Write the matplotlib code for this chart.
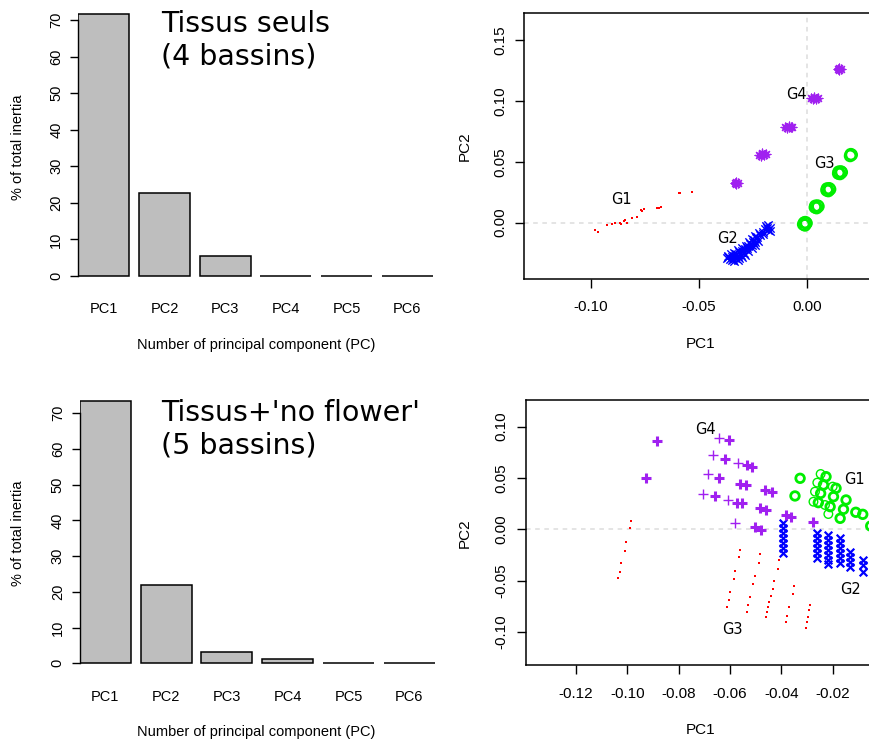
import matplotlib.pyplot as plt

W, H, DPI = 870, 741, 100

# ---- bar charts: % of total inertia per principal component
pc_labels = ["PC1", "PC2", "PC3", "PC4", "PC5", "PC6"]
inertia_tissus = [71.6, 22.6, 5.5, 0.12, 0.08, 0.05]
inertia_noflower = [73.5, 21.8, 3.3, 1.1, 0.15, 0.1]

# ---- PCA scores, "Tissus seuls (4 bassins)"
top_g1_x = [-0.0980, -0.0965, -0.0926, -0.0903, -0.0887, -0.0864, -0.0846, -0.0833,
            -0.0810, -0.0787, -0.0769, -0.0753, -0.0694, -0.0676, -0.0590, -0.0530,
            -0.0858, -0.0840, -0.0760, -0.0685, -0.0585]
top_g1_y = [-0.0060, -0.0080, -0.0020, -0.0010, -0.0005, 0.0000, 0.0010, 0.0000,
            0.0036, 0.0044, 0.0104, 0.0112, 0.0118, 0.0126, 0.0246, 0.0255,
            -0.0010, 0.0020, 0.0095, 0.0122, 0.0240]
top_g2_x = [-0.0370, -0.0362, -0.0355, -0.0348, -0.0340, -0.0336, -0.0330, -0.0325,
            -0.0320, -0.0312, -0.0305, -0.0298, -0.0292, -0.0285, -0.0278, -0.0270,
            -0.0262, -0.0255, -0.0250, -0.0245, -0.0240, -0.0235, -0.0228, -0.0215,
            -0.0200, -0.0192, -0.0185, -0.0178, -0.0190, -0.0170, -0.0345, -0.0315,
            -0.0365, -0.0350, -0.0335, -0.0318, -0.0300, -0.0282, -0.0268, -0.0252,
            -0.0238, -0.0222, -0.0335, -0.0318, -0.0300, -0.0285, -0.0270, -0.0255,
            -0.0240, -0.0225, -0.0180, -0.0200, -0.0170]
top_g2_y = [-0.0290, -0.0280, -0.0300, -0.0285, -0.0298, -0.0270, -0.0288, -0.0255,
            -0.0275, -0.0242, -0.0262, -0.0230, -0.0248, -0.0220, -0.0205, -0.0190,
            -0.0172, -0.0185, -0.0155, -0.0140, -0.0160, -0.0128, -0.0115, -0.0098,
            -0.0075, -0.0055, -0.0040, -0.0060, -0.0030, -0.0045, -0.0310, -0.0290,
            -0.0270, -0.0258, -0.0250, -0.0225, -0.0205, -0.0190, -0.0155, -0.0130,
            -0.0110, -0.0085, -0.0318, -0.0305, -0.0280, -0.0262, -0.0235, -0.0205,
            -0.0180, -0.0150, -0.0020, -0.0095, -0.0070]
top_g3_x = [-0.0016, -0.0001, -0.0008, -0.0006, -0.0012,
            0.0038, 0.0054, 0.0046, 0.0050, 0.0040,
            0.0092, 0.0108, 0.0100, 0.0104, 0.0094,
            0.0146, 0.0162, 0.0154, 0.0158, 0.0148,
            0.0201, 0.0208, 0.0204]
top_g3_y = [-0.0014, -0.0004, -0.0022, 0.0004, 0.0000,
            0.0126, 0.0134, 0.0120, 0.0140, 0.0138,
            0.0266, 0.0274, 0.0260, 0.0282, 0.0280,
            0.0404, 0.0414, 0.0400, 0.0420, 0.0418,
            0.0548, 0.0557, 0.0562]
top_g4_x = [-0.0334, -0.0320, -0.0327, -0.0328,
            -0.0222, -0.0205, -0.0188, -0.0212, -0.0198, -0.0205,
            -0.0099, -0.0082, -0.0066, -0.0090, -0.0074, -0.0082,
            0.0018, 0.0035, 0.0052, 0.0027, 0.0044, 0.0035,
            0.0143, 0.0159, 0.0151, 0.0151]
top_g4_y = [0.0323, 0.0326, 0.0316, 0.0330,
            0.0558, 0.0568, 0.0560, 0.0550, 0.0553, 0.0561,
            0.0786, 0.0795, 0.0788, 0.0779, 0.0782, 0.0788,
            0.1022, 0.1033, 0.1025, 0.1016, 0.1018, 0.1026,
            0.1262, 0.1264, 0.1256, 0.1268]

# ---- PCA scores, "Tissus+'no flower' (5 bassins)"
bot_g1_thin_x = [-0.0247, -0.0260, -0.0269, -0.0275, -0.0230, -0.0217, -0.0200]
bot_g1_thin_y = [0.0539, 0.0455, 0.0367, 0.0269, 0.0237, 0.0149, 0.0416]
bot_g1_bold_x = [-0.0327, -0.0347, -0.0226, -0.0236, -0.0247, -0.0256, -0.0210, -0.0187,
                 -0.0197, -0.0171, -0.0158, -0.0148, -0.0110, -0.0083, -0.0052]
bot_g1_bold_y = [0.0497, 0.0325, 0.0513, 0.0432, 0.0350, 0.0260, 0.0221, 0.0400,
                 0.0318, 0.0107, 0.0195, 0.0286, 0.0166, 0.0146, 0.0032]
bot_g2_x = [-0.0392] * 7 + [-0.0262] * 6 + [-0.0217] * 7 + [-0.0171] * 6 + [-0.0132] * 4 + [-0.0083] * 3
bot_g2_y = [0.0058, 0.0010, -0.0039, -0.0088, -0.0136, -0.0185, -0.0227,
            -0.0032, -0.0088, -0.0136, -0.0185, -0.0234, -0.0282,
            -0.0055, -0.0104, -0.0153, -0.0201, -0.0250, -0.0299, -0.0338,
            -0.0088, -0.0136, -0.0185, -0.0234, -0.0282, -0.0331,
            -0.0218, -0.0266, -0.0315, -0.0364,
            -0.0299, -0.0347, -0.0412]
bot_g3_x = [-0.0987, -0.0990, -0.1005, -0.1008, -0.1023, -0.1029, -0.1038,
            -0.0561, -0.0566, -0.0581, -0.0584, -0.0600, -0.0603, -0.0613,
            -0.0483, -0.0488, -0.0504, -0.0509, -0.0522, -0.0529, -0.0535,
            -0.0408, -0.0412, -0.0429, -0.0434, -0.0442, -0.0447, -0.0451, -0.0455, -0.0460,
            -0.0351, -0.0356, -0.0370, -0.0377, -0.0383,
            -0.0288, -0.0292, -0.0297, -0.0301, -0.0304]
bot_g3_y = [0.0081, 0.0010, -0.0127, -0.0211, -0.0325, -0.0412, -0.0477,
            -0.0201, -0.0266, -0.0403, -0.0487, -0.0607, -0.0688, -0.0760,
            -0.0244, -0.0331, -0.0451, -0.0532, -0.0656, -0.0737, -0.0808,
            -0.0299, -0.0386, -0.0503, -0.0584, -0.0649, -0.0705, -0.0753, -0.0802, -0.0851,
            -0.0552, -0.0630, -0.0753, -0.0844, -0.0906,
            -0.0737, -0.0786, -0.0851, -0.0899, -0.0958]
bot_g4_thin_x = [-0.0644, -0.0665, -0.0684, -0.0570, -0.0706, -0.0607, -0.0579]
bot_g4_thin_y = [0.0893, 0.0724, 0.0539, 0.0643, 0.0344, 0.0286, 0.0058]
bot_g4_bold_x = [-0.0886, -0.0929, -0.0603, -0.0620, -0.0642, -0.0535, -0.0516, -0.0658,
                 -0.0574, -0.0555, -0.0561, -0.0538, -0.0503, -0.0479, -0.0483, -0.0460,
                 -0.0464, -0.0438, -0.0383, -0.0364, -0.0275]
bot_g4_bold_y = [0.0860, 0.0497, 0.0870, 0.0685, 0.0500, 0.0627, 0.0610, 0.0325,
                 0.0260, 0.0253, 0.0438, 0.0432, 0.0019, -0.0006, 0.0205, 0.0188,
                 0.0383, 0.0367, 0.0140, 0.0123, 0.0068]

RED, BLUE, GREEN, PURPLE = "#ff0000", "#0000ff", "#00ee00", "#a020f0"
TICK_FONT = "Liberation Sans"
TEXT_FONT = "DejaVu Sans"


def px_axes(fig, left, right, top, bottom):
    """Adds an axes given its box in image pixels."""
    return fig.add_axes([left / W, 1 - bottom / H, (right - left) / W, (bottom - top) / H])


def fig_text(fig, x, y, s, **kw):
    fig.text(x / W, 1 - y / H, s, **kw)


def bar_panel(fig, values, x_first, step, y_zero, y_70, top_px, title, title_y, label_y, ylabel_y):
    left = x_first - 0.42 * step
    right = 440
    ax = px_axes(fig, left, right, top_px, y_zero + 4)
    scale = (y_zero - y_70) / 70
    ax.set_xlim(-0.42, (right - x_first) / step)
    ax.set_ylim(-4 / scale, (y_zero - top_px) / scale)
    ax.bar(range(len(values)), values, width=0.84, color="#bebebe", edgecolor="black", linewidth=1.1)

    for side in ["top", "right", "bottom"]:
        ax.spines[side].set_visible(False)
    ax.spines["left"].set_bounds(0, 70)
    ax.spines["left"].set_linewidth(1.0)
    ax.set_yticks(range(0, 71, 10))
    ax.set_yticklabels([str(v) for v in range(0, 71, 10)], rotation=90, va="center",
                       family=TICK_FONT, fontsize=10.5)
    ax.tick_params(axis="y", length=5.8, width=1.0, pad=5)
    ax.set_xticks(range(len(pc_labels)))
    ax.set_xticklabels(pc_labels, family=TICK_FONT, fontsize=10.5)
    ax.tick_params(axis="x", length=0, pad=16)

    fig_text(fig, 256, label_y, "Number of principal component (PC)", family=TICK_FONT,
             fontsize=10.5, ha="center", va="center")
    fig_text(fig, 18.5, ylabel_y, "% of total inertia", family=TICK_FONT, fontsize=10.5,
             rotation=90, ha="center", va="center")
    for i, line in enumerate(title):
        fig_text(fig, 161, title_y + 33 * i, line, family=TEXT_FONT, fontsize=20.5, va="baseline")
    return ax


def scatter_frame(fig, box, xlim, ylim, xticks, yticks, xlab_y, ylab_y):
    ax = px_axes(fig, *box)
    ax.set_xlim(*xlim)
    ax.set_ylim(*ylim)
    ax.spines["right"].set_visible(False)
    for side in ["top", "left", "bottom"]:
        ax.spines[side].set_linewidth(1.1)
    ax.set_xticks(xticks)
    ax.set_xticklabels([f"{t:.2f}" for t in xticks], family=TICK_FONT, fontsize=11)
    ax.set_yticks(yticks)
    ax.set_yticklabels([f"{t:.2f}" for t in yticks], family=TICK_FONT, fontsize=11,
                       rotation=90, va="center")
    ax.tick_params(axis="x", length=6.5, width=1.0, pad=9)
    ax.tick_params(axis="y", length=6.5, width=1.0, pad=6)
    ax.axhline(0, color="#dcdcdc", linestyle=(0, (3, 3)), linewidth=1.1, zorder=0)
    fig_text(fig, 701, xlab_y, "PC1", family=TICK_FONT, fontsize=11, ha="center", va="center")
    fig_text(fig, 465, ylab_y, "PC2", family=TICK_FONT, fontsize=11, rotation=90,
             ha="center", va="center")
    return ax


fig = plt.figure(figsize=(W / DPI, H / DPI), dpi=DPI)

bar_panel(fig, inertia_tissus, 103.8, 60.7, 276, 20, 10,
          ["Tissus seuls", "(4 bassins)"], 32, 345, 147)
bar_panel(fig, inertia_noflower, 105.3, 60.8, 663.3, 413.3, 397,
          ["Tissus+'no flower'", "(5 bassins)"], 420.7, 731.7, 533)

# top right scatter
ax = scatter_frame(fig, (524.3, 870, 13.3, 278.7), (-0.1307, 0.0293), (-0.046, 0.1719),
                   [-0.10, -0.05, 0.00], [0.00, 0.05, 0.10, 0.15], 344, 146)
ax.axvline(0, color="#dcdcdc", linestyle=(0, (3, 3)), linewidth=1.1, zorder=0)
ax.scatter(top_g1_x, top_g1_y, s=4, marker="s", color=RED, linewidths=0)
ax.scatter(top_g2_x, top_g2_y, s=36, marker="x", color=BLUE, linewidths=1.0)
ax.scatter(top_g3_x, top_g3_y, s=60, marker="o", facecolors="none", edgecolors=GREEN, linewidths=1.4)
ax.scatter(top_g4_x, top_g4_y, s=40, marker=(8, 2, 0), color=PURPLE, linewidths=0.9)
for name, x, y in [("G1", -0.0856, 0.0194), ("G2", -0.0366, -0.013),
                   ("G3", 0.0080, 0.0487), ("G4", -0.0049, 0.1054)]:
    ax.text(x, y, name, family=TEXT_FONT, fontsize=10.5, ha="center", va="center")

# bottom right scatter
ax = scatter_frame(fig, (525.7, 870, 400, 665), (-0.1396, -0.00547), (-0.1322, 0.126),
                   [-0.12, -0.10, -0.08, -0.06, -0.04, -0.02], [-0.10, -0.05, 0.00, 0.05, 0.10],
                   730, 533)
ax.scatter(bot_g3_x, bot_g3_y, s=4, marker="s", color=RED, linewidths=0)
ax.scatter(bot_g2_x, bot_g2_y, s=30, marker="x", color=BLUE, linewidths=1.6)
ax.scatter(bot_g1_thin_x, bot_g1_thin_y, s=38, marker="o", facecolors="none", edgecolors=GREEN,
           linewidths=1.0)
ax.scatter(bot_g1_bold_x, bot_g1_bold_y, s=38, marker="o", facecolors="none", edgecolors=GREEN,
           linewidths=2.0)
ax.scatter(bot_g4_thin_x, bot_g4_thin_y, s=45, marker="+", color=PURPLE, linewidths=1.0)
ax.scatter(bot_g4_bold_x, bot_g4_bold_y, s=55, marker="+", color=PURPLE, linewidths=2.2)
for name, x, y in [("G1", -0.0117, 0.0487), ("G2", -0.0130, -0.0591),
                   ("G3", -0.0590, -0.0974), ("G4", -0.0697, 0.0974)]:
    ax.text(x, y, name, family=TEXT_FONT, fontsize=10.5, ha="center", va="center")

fig.savefig("out.png", dpi=DPI)
